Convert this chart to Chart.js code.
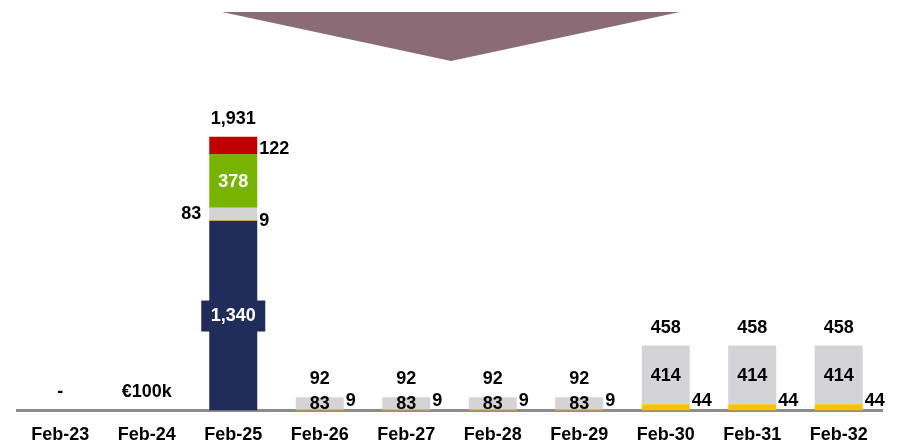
<!DOCTYPE html>
<html>
<head>
<meta charset="utf-8">
<script src="https://cdn.jsdelivr.net/npm/chart.js@4.4.0/dist/chart.umd.min.js"></script>
<style>
    html, body { margin: 0; padding: 0; background: #fff; }
    #wrap { width: 904px; height: 448px; }
</style>
</head>
<body>
<div id="wrap"><canvas id="chart"></canvas></div>
<script>
// ─── Data ─────────────────────────────────────────────────
const categories = ['Feb-23', 'Feb-24', 'Feb-25', 'Feb-26', 'Feb-27', 'Feb-28', 'Feb-29', 'Feb-30', 'Feb-31', 'Feb-32'];
const navyValues   = [0, 0, 1340, 0, 0, 0, 0, 0, 0, 0];
const orangeValues = [0, 0, 9, 9, 9, 9, 9, 44, 44, 44];
const grayValues   = [0, 0, 83, 83, 83, 83, 83, 414, 414, 414];
const greenValues  = [0, 0, 378, 0, 0, 0, 0, 0, 0, 0];
const redValues    = [0, 0, 122, 0, 0, 0, 0, 0, 0, 0];
const totalLabels  = ['-', '€100k', '1,931', '92', '92', '92', '92', '458', '458', '458'];

const FONT = '"Liberation Sans", Arial, sans-serif';
const NAVY = '#202d5a';

// où poser chaque étiquette : inside / right / left
const labelModes = {
    navy:   i => 'box',
    orange: i => 'right',
    gray:   i => (i === 2 ? 'left' : 'inside'),
    green:  i => 'inside',
    red:    i => 'right'
};

function fmt(v) { return v.toLocaleString('en-US'); }

const arrowPlugin = {
    id: 'arrow',
    beforeDraw(chart) {
        const ctx = chart.ctx;
        ctx.save();
        ctx.fillStyle = '#8b6c76';
        ctx.beginPath();
        ctx.moveTo(222, 12);
        ctx.lineTo(680, 12);
        ctx.lineTo(451, 61);
        ctx.closePath();
        ctx.fill();
        ctx.restore();
    }
};

const labelPlugin = {
    id: 'segLabels',
    afterDatasetsDraw(chart) {
        const ctx = chart.ctx;
        const yScale = chart.scales.y;
        const xScale = chart.scales.x;
        const zero = yScale.getPixelForValue(0);
        ctx.save();
        ctx.font = 'bold 18px ' + FONT;
        ctx.textBaseline = 'middle';

        chart.data.datasets.forEach((ds, di) => {
            const meta = chart.getDatasetMeta(di);
            meta.data.forEach((bar, i) => {
                const v = ds.data[i];
                if (!v) return;
                const mode = labelModes[ds.key](i);
                const half = bar.width / 2;
                const mid = (bar.y + bar.base) / 2;
                const txt = fmt(v);
                if (mode === 'box') {
                    ctx.fillStyle = NAVY;
                    ctx.fillRect(bar.x - 32, mid - 15, 64, 31);
                    ctx.fillStyle = '#fff';
                    ctx.textAlign = 'center';
                    ctx.fillText(txt, bar.x, mid + 1);
                } else if (mode === 'inside') {
                    ctx.fillStyle = ds.key === 'green' ? '#fff' : '#000';
                    ctx.textAlign = 'center';
                    ctx.fillText(txt, bar.x, mid + 1);
                } else if (mode === 'left') {
                    ctx.fillStyle = '#000';
                    ctx.textAlign = 'right';
                    ctx.fillText(txt, bar.x - half - 8, mid + 1);
                } else {
                    ctx.fillStyle = '#000';
                    ctx.textAlign = 'left';
                    let y = ds.key === 'red' ? mid + 4 : Math.min(mid + 1, zero - 9);
                    ctx.fillText(txt, bar.x + half + 2, y);
                }
            });
        });

        // totaux au-dessus des piles
        ctx.fillStyle = '#000';
        ctx.textAlign = 'center';
        categories.forEach((c, i) => {
            const sum = chart.data.datasets.reduce((s, ds) => s + ds.data[i], 0);
            const top = yScale.getPixelForValue(sum);
            ctx.fillText(totalLabels[i], xScale.getPixelForValue(i), top - 18);
        });
        ctx.restore();
    }
};

function ds(key, label, data, color) {
    return { key, label, data, backgroundColor: color, borderWidth: 0, barPercentage: 0.555, categoryPercentage: 1 };
}

new Chart(document.getElementById('chart'), {
    type: 'bar',
    data: {
        labels: categories,
        datasets: [
            ds('navy', 'Navy', navyValues, NAVY),
            ds('orange', 'Orange', orangeValues, '#ffc000'),
            ds('gray', 'Gray', grayValues, '#d4d4d6'),
            ds('green', 'Green', greenValues, '#77b300'),
            ds('red', 'Red', redValues, '#c00000')
        ]
    },
    options: {
        responsive: true,
        maintainAspectRatio: false,
        animation: false,
        layout: { padding: { left: 17, right: 22, top: 70, bottom: -12 } },
        plugins: { legend: { display: false }, tooltip: { enabled: false } },
        scales: {
            x: {
                stacked: true,
                grid: { display: false, drawTicks: false },
                border: { display: true, color: '#8c8c8c', width: 3 },
                ticks: { color: '#000', font: { family: FONT, size: 18, weight: 'bold' }, padding: 14 }
            },
            y: {
                stacked: true,
                display: false,
                min: 0,
                max: 2404
            }
        }
    },
    plugins: [arrowPlugin, labelPlugin]
});
</script>
</body>
</html>
